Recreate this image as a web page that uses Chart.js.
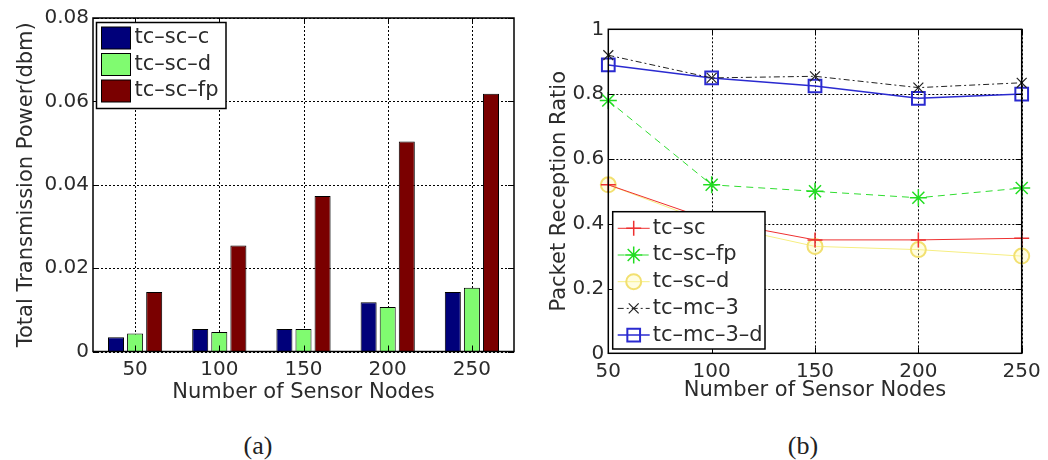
<!DOCTYPE html>
<html>
<head>
<meta charset="utf-8">
<title>Transmission power and packet reception</title>
<script src="https://cdn.jsdelivr.net/npm/chart.js@4.4.1/dist/chart.umd.min.js"></script>
<style>
  body { margin: 0; background: #fff; width: 1048px; height: 460px; position: relative; overflow: hidden; }
  canvas { position: absolute; top: 0; }
  #powerChart { left: 0; }
  #prrChart { left: 525px; }
  .caption { position: absolute; font-family: 'Liberation Serif', serif; font-size: 26px; line-height: 26px; color: #222; transform: translateX(-50%); }
</style>
</head>
<body>
<canvas id="powerChart" width="525" height="420"></canvas>
<canvas id="prrChart" width="523" height="420"></canvas>
<div class="caption" style="left:258px; top:433px">(a)</div>
<div class="caption" style="left:803px; top:433px">(b)</div>

<script>
// ---------- Data ----------
const nodeLabels = ['50', '100', '150', '200', '250'];
const nodeCounts = [50, 100, 150, 200, 250];

// (a) total transmission power (dbm)
const powerScC = [0.0034, 0.0054, 0.0054, 0.0118, 0.0143];
const powerScD = [0.0043, 0.0047, 0.0054, 0.0107, 0.0153];
const powerScFp = [0.0143, 0.0254, 0.0373, 0.0504, 0.0618];
const powerTicks = [0, 0.02, 0.04, 0.06, 0.08];
const powerTickLabels = ['0', '0.02', '0.04', '0.06', '0.08'];

// (b) packet reception ratio
const prrTcSc = [0.52, 0.41, 0.35, 0.35, 0.355];
const prrTcScFp = [0.78, 0.52, 0.50, 0.48, 0.51];
const prrTcScD = [0.52, 0.40, 0.33, 0.32, 0.30];
const prrTcMc3 = [0.92, 0.85, 0.855, 0.82, 0.835];
const prrTcMc3D = [0.89, 0.85, 0.825, 0.787, 0.80];
const prrTicks = [0, 0.2, 0.4, 0.6, 0.8, 1];
const prrTickLabels = ['0', '0.2', '0.4', '0.6', '0.8', '1'];

const FONT = "'DejaVu Sans', sans-serif";
const TEXT = '#2b2b2b';

const toPoints = ys => nodeCounts.map((x, i) => ({ x, y: ys[i] }));

// ---------- Plugins ----------
// Dotted grid under the data, then the axes box with inward ticks on top
const axesBox = {
    id: 'axesBox',
    beforeDatasetsDraw(chart, args, opts) {
        const { ctx, chartArea: a, scales } = chart;
        ctx.save();
        ctx.strokeStyle = '#000';
        ctx.lineWidth = 1;
        ctx.setLineDash(opts.gridDash);
        ctx.beginPath();
        scales.x.ticks.forEach((tk, i) => {
            const px = Math.round(scales.x.getPixelForTick(i)) + 0.5;
            ctx.moveTo(px, a.top); ctx.lineTo(px, a.bottom);
        });
        scales.y.ticks.forEach((tk, i) => {
            const py = Math.round(scales.y.getPixelForTick(i)) + 0.5;
            ctx.moveTo(a.left, py); ctx.lineTo(a.right, py);
        });
        ctx.stroke();
        ctx.restore();
    },
    afterDatasetsDraw(chart, args, opts) {
        const { ctx, chartArea: a, scales } = chart;
        const t = opts.tickLength;
        ctx.save();
        ctx.setLineDash([]);
        ctx.strokeStyle = '#000';
        ctx.lineWidth = 1;
        ctx.beginPath();
        scales.x.ticks.forEach((tk, i) => {
            const px = Math.round(scales.x.getPixelForTick(i)) + 0.5;
            ctx.moveTo(px, a.bottom); ctx.lineTo(px, a.bottom - t);
            ctx.moveTo(px, a.top); ctx.lineTo(px, a.top + t);
        });
        scales.y.ticks.forEach((tk, i) => {
            const py = Math.round(scales.y.getPixelForTick(i)) + 0.5;
            ctx.moveTo(a.left, py); ctx.lineTo(a.left + t, py);
            ctx.moveTo(a.right, py); ctx.lineTo(a.right - t, py);
        });
        ctx.stroke();
        ctx.lineWidth = opts.frameWidth;
        ctx.strokeRect(a.left, a.top, a.right - a.left, a.bottom - a.top);
        ctx.restore();
    },
};

// Boxed legend placed inside the axes
const boxLegend = {
    id: 'boxLegend',
    afterDraw(chart, args, opts) {
        const { ctx } = chart;
        const { left, top, width, height, firstRow, rowHeight, sampleX0, sampleX1, textX, swatchH } = opts;
        ctx.save();
        ctx.setLineDash([]);
        ctx.fillStyle = '#fff';
        ctx.fillRect(left, top, width, height);
        ctx.font = '21px ' + FONT;
        ctx.textBaseline = 'middle';
        ctx.textAlign = 'left';
        chart.data.datasets.forEach((ds, i) => {
            const y = top + firstRow + i * rowHeight;
            if (opts.kind === 'swatch') {
                ctx.fillStyle = ds.backgroundColor;
                ctx.fillRect(left + sampleX0, y - swatchH / 2, sampleX1 - sampleX0, swatchH);
                ctx.strokeStyle = '#000';
                ctx.lineWidth = 1;
                ctx.strokeRect(left + sampleX0, y - swatchH / 2, sampleX1 - sampleX0, swatchH);
            } else {
                ctx.strokeStyle = ds.borderColor;
                ctx.lineWidth = ds.borderWidth;
                ctx.setLineDash(ds.borderDash || []);
                ctx.beginPath();
                ctx.moveTo(left + sampleX0, y);
                ctx.lineTo(left + sampleX1, y);
                ctx.stroke();
                ctx.setLineDash([]);
                ctx.strokeStyle = ds.pointBorderColor;
                ctx.fillStyle = ds.pointBackgroundColor;
                ctx.lineWidth = ds.pointBorderWidth;
                Chart.helpers.drawPoint(ctx, {
                    pointStyle: ds.pointStyle,
                    radius: ds.pointRadius,
                    rotation: 0,
                    borderWidth: ds.pointBorderWidth,
                }, left + (sampleX0 + sampleX1) / 2, y);
            }
            ctx.fillStyle = TEXT;
            ctx.fillText(ds.label, left + textX, y);
        });
        ctx.strokeStyle = '#000';
        ctx.lineWidth = 1.5;
        ctx.strokeRect(left, top, width, height);
        ctx.restore();
    },
};

const tickFont = { family: FONT, size: 20 };
const titleFont = { family: FONT, size: 21 };
const noGrid = { display: false, drawTicks: false };

// ---------- (a) Total transmission power ----------
new Chart(document.getElementById('powerChart'), {
    type: 'bar',
    data: {
        labels: nodeLabels,
        datasets: [
            { label: 'tc–sc–c', data: powerScC, backgroundColor: '#00007a' },
            { label: 'tc–sc–d', data: powerScD, backgroundColor: '#80fb70' },
            { label: 'tc–sc–fp', data: powerScFp, backgroundColor: '#7a0000' },
        ],
    },
    options: {
        responsive: false,
        animation: false,
        devicePixelRatio: 1,
        layout: { padding: { left: 0, top: 18, right: 11, bottom: 0 } },
        datasets: {
            bar: { borderColor: '#000', borderWidth: 1, categoryPercentage: 0.68, barPercentage: 0.84 },
        },
        plugins: {
            legend: { display: false },
            tooltip: { enabled: false },
            axesBox: { tickLength: 6, frameWidth: 1.5, gridDash: [2, 2] },
            boxLegend: {
                kind: 'swatch', left: 96.5, top: 22.5, width: 129.5, height: 86,
                firstRow: 15.5, rowHeight: 26.5, sampleX0: 5, sampleX1: 34, swatchH: 22, textX: 38,
            },
        },
        scales: {
            x: {
                grid: noGrid,
                border: { display: false },
                ticks: { font: tickFont, color: TEXT, padding: 6 },
                title: { display: true, text: 'Number of Sensor Nodes', font: titleFont, color: TEXT, padding: { top: 4, bottom: 15 } },
                afterFit: s => { s.height = 68.5; },
            },
            y: {
                min: 0,
                max: 0.08,
                afterBuildTicks: s => { s.ticks = powerTicks.map(v => ({ value: v })); },
                grid: noGrid,
                border: { display: false },
                ticks: { font: tickFont, color: TEXT, padding: 4, callback: (v, i) => powerTickLabels[i] },
                title: { display: true, text: 'Total Transmission Power(dbm)', font: titleFont, color: TEXT, padding: { top: 14, bottom: 4 } },
                afterFit: s => { s.width = 93; },
            },
        },
    },
    plugins: [axesBox, boxLegend],
});

// ---------- (b) Packet reception ratio ----------
new Chart(document.getElementById('prrChart'), {
    type: 'line',
    data: {
        datasets: [
            {
                label: 'tc–sc', data: toPoints(prrTcSc),
                borderColor: '#ee3030', borderWidth: 1,
                pointStyle: 'cross', pointRadius: 7.5, pointBorderColor: '#ee3030', pointBackgroundColor: '#ee3030', pointBorderWidth: 1.5,
            },
            {
                label: 'tc–sc–fp', data: toPoints(prrTcScFp),
                borderColor: '#30dd30', borderWidth: 1, borderDash: [7, 5],
                pointStyle: 'star', pointRadius: 8.5, pointBorderColor: '#22dd22', pointBackgroundColor: '#22dd22', pointBorderWidth: 1.5,
            },
            {
                label: 'tc–sc–d', data: toPoints(prrTcScD),
                borderColor: '#f6ee80', borderWidth: 1,
                pointStyle: 'circle', pointRadius: 7.5, pointBorderColor: '#f2e070', pointBackgroundColor: 'rgba(255,250,170,0.35)', pointBorderWidth: 2,
            },
            {
                label: 'tc–mc–3', data: toPoints(prrTcMc3),
                borderColor: '#222', borderWidth: 1, borderDash: [6, 3, 2, 3],
                pointStyle: 'crossRot', pointRadius: 7, pointBorderColor: '#222', pointBackgroundColor: '#222', pointBorderWidth: 1.2,
            },
            {
                label: 'tc–mc–3–d', data: toPoints(prrTcMc3D),
                borderColor: '#2a2ad0', borderWidth: 1.5,
                pointStyle: 'rect', pointRadius: 9, pointBorderColor: '#2a2ad0', pointBackgroundColor: 'rgba(0,0,0,0)', pointBorderWidth: 2,
            },
        ],
    },
    options: {
        responsive: false,
        animation: false,
        devicePixelRatio: 1,
        layout: { padding: { left: 0, top: 29.3, right: 26.3, bottom: 0 } },
        datasets: { line: { clip: false, tension: 0 } },
        plugins: {
            legend: { display: false },
            tooltip: { enabled: false },
            axesBox: { tickLength: 6, frameWidth: 1.5, gridDash: [2, 2] },
            boxLegend: {
                kind: 'line', left: 87.7, top: 211.7, width: 152.3, height: 137.3,
                firstRow: 16.6, rowHeight: 26.7, sampleX0: 5, sampleX1: 37, textX: 40,
            },
        },
        scales: {
            x: {
                type: 'linear',
                min: 50,
                max: 250,
                afterBuildTicks: s => { s.ticks = nodeCounts.map(v => ({ value: v })); },
                grid: noGrid,
                border: { display: false },
                ticks: { font: tickFont, color: TEXT, padding: 6, callback: (v, i) => nodeLabels[i] },
                title: { display: true, text: 'Number of Sensor Nodes', font: titleFont, color: TEXT, padding: { top: 4, bottom: 17 } },
                afterFit: s => { s.height = 66.7; },
            },
            y: {
                min: 0,
                max: 1,
                afterBuildTicks: s => { s.ticks = prrTicks.map(v => ({ value: v })); },
                grid: noGrid,
                border: { display: false },
                ticks: { font: tickFont, color: TEXT, padding: 4, callback: (v, i) => prrTickLabels[i] },
                title: { display: true, text: 'Packet Reception Ratio', font: titleFont, color: TEXT, padding: { top: 22, bottom: 4 } },
                afterFit: s => { s.width = 83.3; },
            },
        },
    },
    plugins: [axesBox, boxLegend],
});
</script>
</body>
</html>
